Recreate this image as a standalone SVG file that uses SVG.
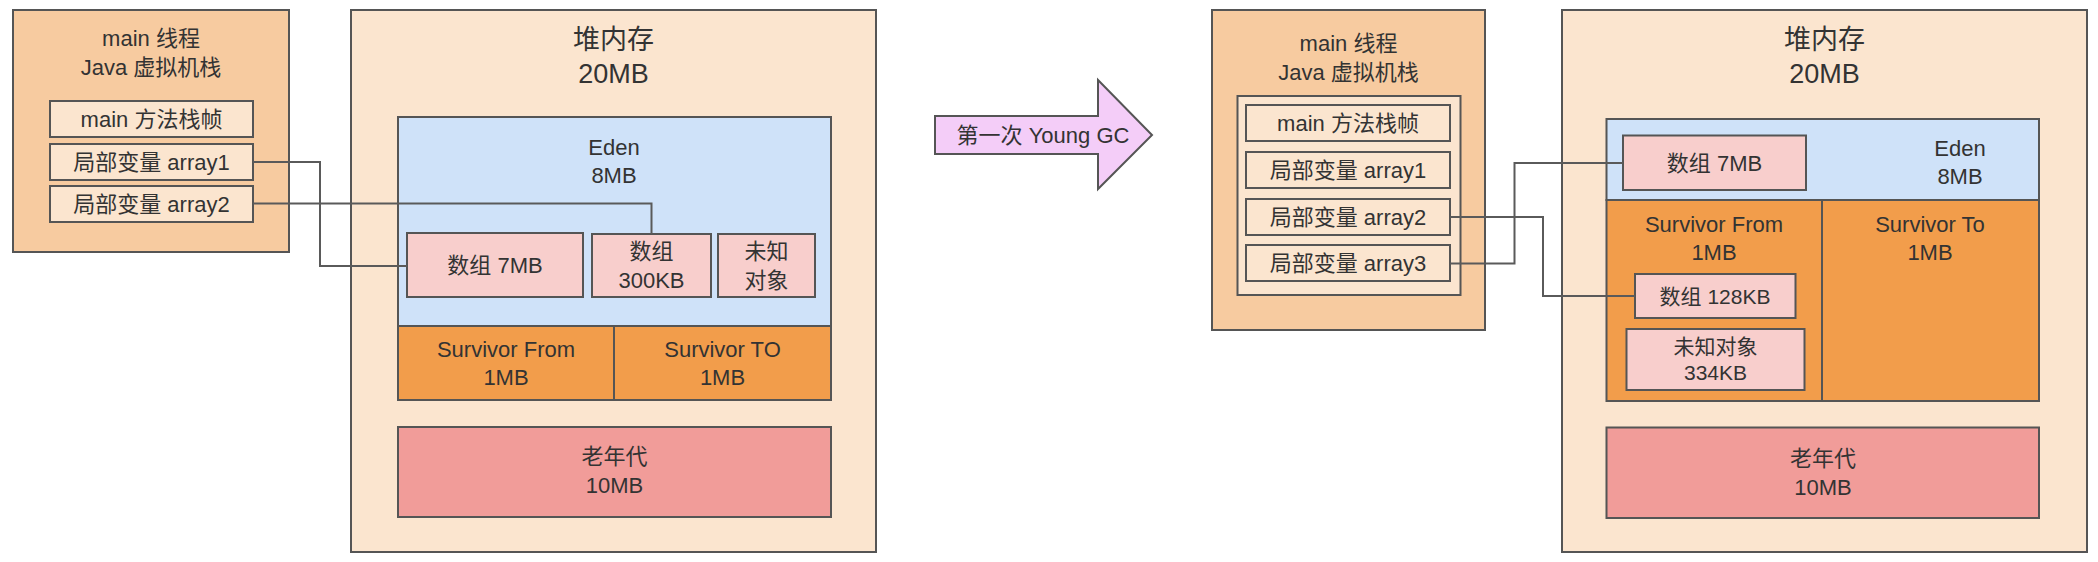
<svg xmlns="http://www.w3.org/2000/svg" width="2098" height="562" viewBox="0 0 2098 562">
<style>
text{font-family:"Liberation Sans","Noto Sans CJK SC",sans-serif;font-size:22px;fill:#333;text-anchor:middle}
.t{font-size:27px}
.s{font-size:21px}
rect,polygon{stroke:#555;stroke-width:2}
.stack{fill:#F7CBA0}
.light{fill:#FBE5CF}
.eden{fill:#CFE2F9}
.surv{fill:#F29D4B}
.obj{fill:#F8CECC}
.old{fill:#F19C99}
.arrow{fill:#F4CDF8}
.conn{fill:none;stroke:#5a5a5a;stroke-width:2}
</style>

<g id="left-stack">
<rect class="stack" x="13" y="10" width="276" height="242"/>
<text x="151" y="46">main 线程</text>
<text x="151" y="75">Java 虚拟机栈</text>
</g>
<g id="left-frame">
<rect class="light" x="50" y="101" width="203" height="36"/>
<text x="151.5" y="127">main 方法栈帧</text>
</g>
<g id="left-array1">
<rect class="light" x="50" y="144" width="203" height="36"/>
<text x="151.5" y="170">局部变量 array1</text>
</g>
<g id="left-array2">
<rect class="light" x="50" y="186" width="203" height="36"/>
<text x="151.5" y="212">局部变量 array2</text>
</g>

<g id="left-heap">
<rect class="light" x="351" y="10" width="525" height="542"/>
<text class="t" x="613.5" y="48.5">堆内存</text>
<text class="t" x="613.5" y="82.5">20MB</text>
</g>
<g id="left-eden">
<rect class="eden" x="398" y="117" width="433" height="209"/>
<text x="614" y="154.5">Eden</text>
<text x="614" y="183">8MB</text>
</g>
<g id="left-arr7mb">
<rect class="obj" x="407" y="233" width="176" height="64"/>
<text x="495" y="273">数组 7MB</text>
</g>
<g id="left-arr300kb">
<rect class="obj" x="592" y="234" width="119" height="63"/>
<text x="651.5" y="259">数组</text>
<text x="651.5" y="288">300KB</text>
</g>
<g id="left-unknown">
<rect class="obj" x="718" y="234" width="97" height="63"/>
<text x="766.5" y="259">未知</text>
<text x="766.5" y="288">对象</text>
</g>
<g id="left-from">
<rect class="surv" x="398" y="326" width="216" height="74"/>
<text x="506" y="357">Survivor From</text>
<text x="506" y="385">1MB</text>
</g>
<g id="left-to">
<rect class="surv" x="614" y="326" width="217" height="74"/>
<text x="722.5" y="357">Survivor TO</text>
<text x="722.5" y="385">1MB</text>
</g>
<g id="left-old">
<rect class="old" x="398" y="427" width="433" height="90"/>
<text x="614.5" y="464">老年代</text>
<text x="614.5" y="493">10MB</text>
</g>

<g id="gc-arrow">
<polygon class="arrow" points="935,116 1098,116 1098,80 1152,135 1098,189 1098,154 935,154"/>
<text x="1043" y="143">第一次 Young GC</text>
</g>

<g id="right-stack">
<rect class="stack" x="1212" y="10" width="273" height="320"/>
<text x="1348.5" y="51">main 线程</text>
<text x="1348.5" y="80">Java 虚拟机栈</text>
<rect class="light" x="1237.5" y="96" width="223" height="199"/>
</g>
<g id="right-frame">
<rect class="light" x="1246" y="105" width="204" height="36"/>
<text x="1348" y="131">main 方法栈帧</text>
</g>
<g id="right-array1">
<rect class="light" x="1246" y="152" width="204" height="36"/>
<text x="1348" y="178">局部变量 array1</text>
</g>
<g id="right-array2">
<rect class="light" x="1246" y="199" width="204" height="36"/>
<text x="1348" y="225">局部变量 array2</text>
</g>
<g id="right-array3">
<rect class="light" x="1246" y="245" width="204" height="36"/>
<text x="1348" y="271">局部变量 array3</text>
</g>

<g id="right-heap">
<rect class="light" x="1562" y="10" width="525" height="542"/>
<text class="t" x="1824.5" y="49">堆内存</text>
<text class="t" x="1824.5" y="83">20MB</text>
</g>
<g id="right-eden">
<rect class="eden" x="1606.5" y="119" width="432.5" height="81"/>
<text x="1960" y="155.5">Eden</text>
<text x="1960" y="183.5">8MB</text>
</g>
<g id="right-arr7mb">
<rect class="obj" x="1623" y="135.5" width="183" height="54.5"/>
<text x="1714.5" y="171">数组 7MB</text>
</g>
<g id="right-from">
<rect class="surv" x="1606.5" y="200" width="215.5" height="201"/>
<text x="1714" y="232">Survivor From</text>
<text x="1714" y="260">1MB</text>
</g>
<g id="right-to">
<rect class="surv" x="1822" y="200" width="217" height="201"/>
<text x="1930" y="232">Survivor To</text>
<text x="1930" y="260">1MB</text>
</g>
<g id="right-arr128kb">
<rect class="obj" x="1635" y="274" width="160.5" height="44"/>
<text class="s" x="1715" y="304">数组 128KB</text>
</g>
<g id="right-unknown">
<rect class="obj" x="1626.5" y="329" width="178" height="61"/>
<text class="s" x="1715.5" y="354">未知对象</text>
<text class="s" x="1715.5" y="380">334KB</text>
</g>
<g id="right-old">
<rect class="old" x="1606.5" y="427.5" width="432.5" height="90.5"/>
<text x="1823" y="466">老年代</text>
<text x="1823" y="494.5">10MB</text>
</g>

<g id="connectors">
<polyline class="conn" points="253,162 320,162 320,266 407,266"/>
<polyline class="conn" points="253,203.5 651.5,203.5 651.5,234"/>
<polyline class="conn" points="1450,217 1543,217 1543,296 1635,296"/>
<polyline class="conn" points="1450,263.5 1514.5,263.5 1514.5,163 1623,163"/>
</g>
</svg>
